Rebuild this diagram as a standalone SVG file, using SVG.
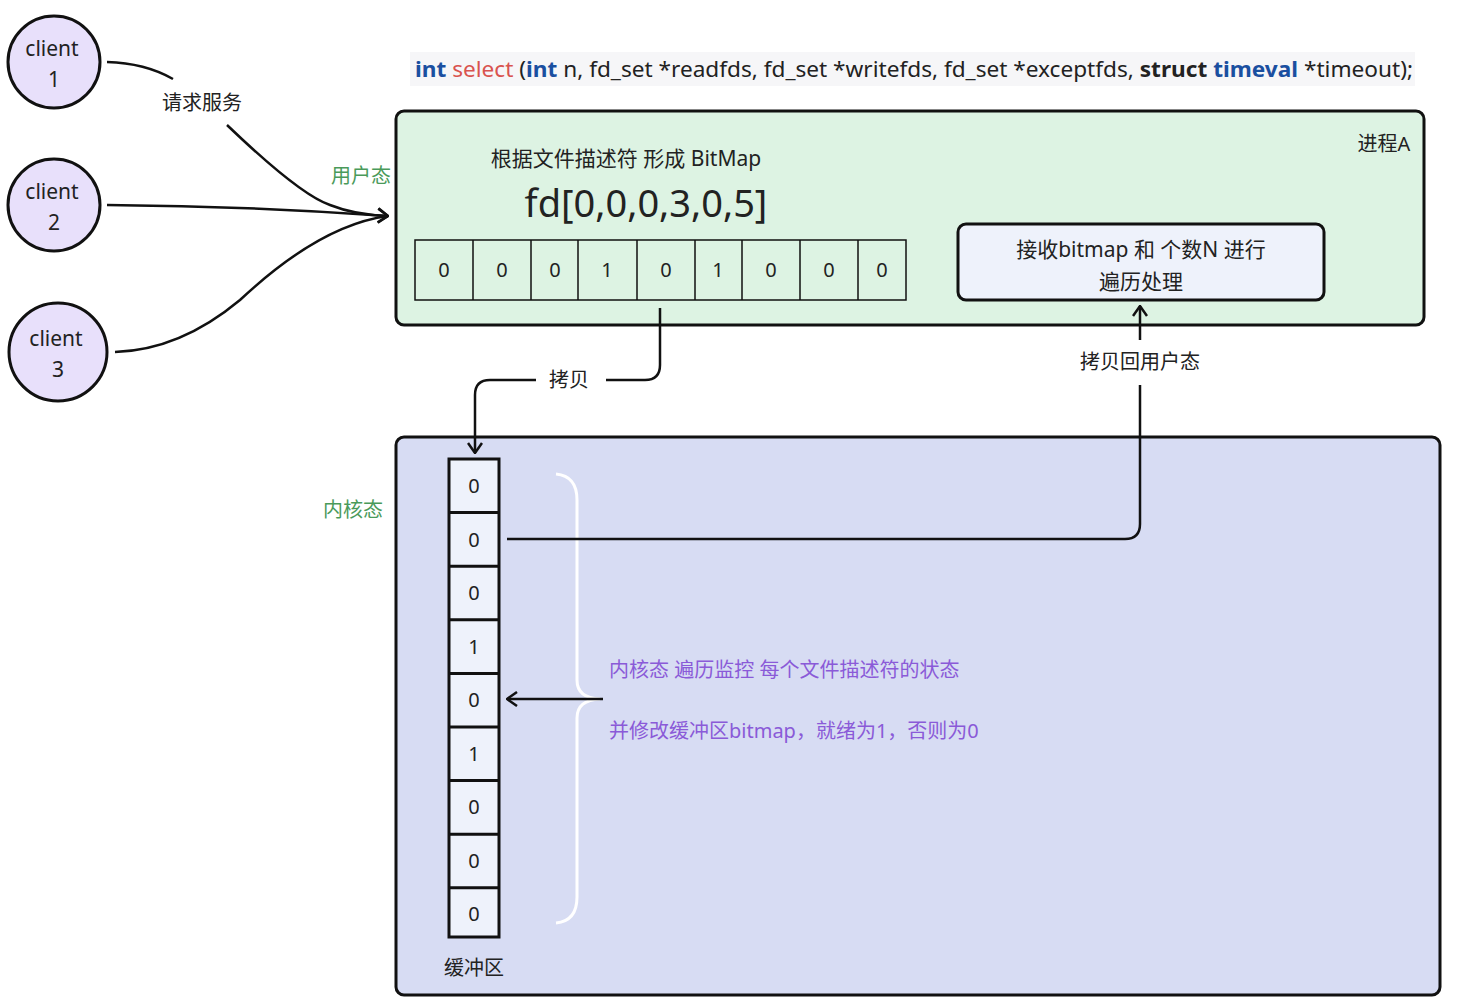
<svg xmlns="http://www.w3.org/2000/svg" width="1460" height="1006" viewBox="0 0 1460 1006">
<defs>
<style>
text{font-family:"Noto Sans","Noto Sans CJK SC",sans-serif;fill:#222}
.c{fill:#e8e0fb;stroke:#111;stroke-width:3}
.ct{font-size:21px;text-anchor:middle}
.ln{fill:none;stroke:#111;stroke-width:2.5}
.cell{fill:none;stroke:#111;stroke-width:1.5}
.kc{fill:#eef2fb;stroke:#111;stroke-width:3}
.num{font-size:20px;text-anchor:middle}
.g{fill:#4a9a5a;font-size:20px}
.p{fill:#8a5ad8;font-size:20px}
</style>
<marker id="a" viewBox="0 0 12 16" refX="11" refY="8" markerWidth="12" markerHeight="16" markerUnits="userSpaceOnUse" orient="auto"><path d="M1,1 L11,8 L1,15" fill="none" stroke="#111" stroke-width="2.5"/></marker>
</defs>
<rect width="1460" height="1006" fill="#fff"/>
<g id="code">
<rect x="410" y="52" width="1005" height="34" fill="#f6f6f8"/>
<text x="415" y="77" font-size="22" textLength="998" lengthAdjust="spacingAndGlyphs"><tspan fill="#1a4fa0" font-weight="bold">int</tspan> <tspan fill="#d9534f">select</tspan> (<tspan fill="#1a4fa0" font-weight="bold">int</tspan> n, fd_set *readfds, fd_set *writefds, fd_set *exceptfds, <tspan font-weight="bold">struct</tspan> <tspan fill="#1a4fa0" font-weight="bold">timeval</tspan> *timeout);</text>
</g>
<g id="userspace">
<rect x="396" y="111" width="1028" height="214" rx="8" fill="#ddf3e3" stroke="#111" stroke-width="3"/>
<text x="1384" y="151" font-size="20" text-anchor="middle">进程A</text>
<text x="626" y="166" font-size="21" text-anchor="middle">根据文件描述符 形成 BitMap</text>
<text x="646" y="217" font-size="38" text-anchor="middle">fd[0,0,0,3,0,5]</text>
</g>
<g id="bitmap">
<rect x="415" y="240" width="491" height="60" class="cell"/>
<path d="M473,240V300M531,240V300M578,240V300M637,240V300M695,240V300M742,240V300M800,240V300M858,240V300" class="cell"/>
<text y="277" class="num"><tspan x="444">0</tspan><tspan x="502">0</tspan><tspan x="555">0</tspan><tspan x="607">1</tspan><tspan x="666">0</tspan><tspan x="718">1</tspan><tspan x="771">0</tspan><tspan x="829">0</tspan><tspan x="882">0</tspan></text>
</g>
<g id="recv">
<rect x="958" y="224" width="366" height="76" rx="8" fill="#eef2fb" stroke="#111" stroke-width="3"/>
<text x="1141" y="257" font-size="21" text-anchor="middle">接收bitmap 和 个数N 进行</text>
<text x="1141" y="289" font-size="21" text-anchor="middle">遍历处理</text>
</g>
<g id="kernel">
<rect x="396" y="437" width="1044" height="558" rx="8" fill="#d7dcf3" stroke="#111" stroke-width="3"/>
<text x="353" y="517" class="g" text-anchor="middle">内核态</text>
<text x="474" y="975" font-size="20" text-anchor="middle">缓冲区</text>
<path d="M556,474 Q577,476 577,500 V680 Q577,698 600,699 Q577,700 577,718 V897 Q577,921 556,923" fill="none" stroke="#fff" stroke-width="3"/>
<text x="609" y="677" class="p">内核态 遍历监控 每个文件描述符的状态</text>
<text x="609" y="738" class="p">并修改缓冲区bitmap，就绪为1，否则为0</text>
</g>
<g id="buffer">
<rect x="449" y="459" width="50" height="478" class="kc"/>
<path d="M449,512.6H499M449,566.2H499M449,619.8H499M449,673.4H499M449,727H499M449,780.6H499M449,834.2H499M449,887.8H499" stroke="#111" stroke-width="3"/>
<text class="num"><tspan x="474" y="493">0</tspan><tspan x="474" y="547">0</tspan><tspan x="474" y="600">0</tspan><tspan x="474" y="654">1</tspan><tspan x="474" y="707">0</tspan><tspan x="474" y="761">1</tspan><tspan x="474" y="814">0</tspan><tspan x="474" y="868">0</tspan><tspan x="474" y="921">0</tspan></text>
</g>
<g id="clients">
<circle cx="54" cy="62" r="46" class="c"/><text class="ct" x="52" y="56">client</text><text class="ct" x="54" y="87">1</text>
<circle cx="54" cy="205" r="46" class="c"/><text class="ct" x="52" y="199">client</text><text class="ct" x="54" y="230">2</text>
<circle cx="58" cy="352" r="49" class="c"/><text class="ct" x="56" y="346">client</text><text class="ct" x="58" y="377">3</text>
</g>
<g id="connectors">
<path d="M107,62 Q145,63 173,79" class="ln"/>
<text x="202" y="110" font-size="20" text-anchor="middle">请求服务</text>
<path d="M227,125 Q300,195 330,205 Q355,215 388,216" class="ln" marker-end="url(#a)"/>
<path d="M107,205 Q250,206 388,216" class="ln" marker-end="url(#a)"/>
<path d="M115,352 Q180,350 240,300 Q320,225 388,216" class="ln"/>
<text x="361" y="183" class="g" text-anchor="middle">用户态</text>
<path d="M660,308 V365 Q660,380 645,380 H606" class="ln"/>
<text x="569" y="387" font-size="20" text-anchor="middle">拷贝</text>
<path d="M536,380 H490 Q475,380 475,395 V453" class="ln" marker-end="url(#a)"/>
<path d="M507,539 H1125 Q1140,539 1140,524 V385" class="ln"/>
<text x="1140" y="369" font-size="20" text-anchor="middle">拷贝回用户态</text>
<path d="M1140,340 V306" class="ln" marker-end="url(#a)"/>
<path d="M603,699 H507" class="ln" marker-end="url(#a)"/>
</g>
</svg>
